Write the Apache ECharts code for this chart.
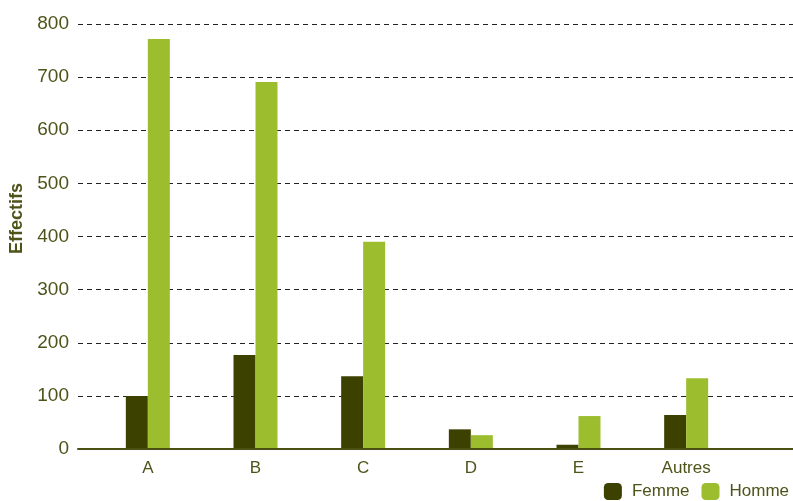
<!DOCTYPE html>
<html lang="fr">
  <head>
    <meta charset="UTF-8" />
    <title>Effectifs par catégorie</title>
    <script src="https://cdn.jsdelivr.net/npm/echarts@6/dist/echarts.min.js"></script>
    <style>
      html, body { margin: 0; padding: 0; background: #fff; }
      #main { width: 793px; height: 501px; }
    </style>
  </head>
  <body>
    <div id="main"></div>

    <script>
      const categories = ['A', 'B', 'C', 'D', 'E', 'Autres'];
      const femme = [100, 177, 137, 37, 8, 64];
      const homme = [772, 691, 390, 26, 62, 133];
      const yTicks = { min: 0, max: 800, interval: 100 };

      const textColor = '#4e5419';
      const font = "'Liberation Sans', Arial, sans-serif";

      const options = {
        animation: false,
        textStyle: { fontFamily: font },
        legend: {
          data: ['Femme', 'Homme'],
          right: -1,
          top: 478,
          icon: 'roundRect',
          itemWidth: 18,
          itemHeight: 17,
          itemGap: 12,
          textStyle: { fontSize: 17, color: textColor, fontFamily: font, padding: [0, 0, 0, 5] },
        },
        grid: [
          // background grid: gridlines and axis line run the full width
          { left: 78, right: 0, top: 24, bottom: 52, outerBoundsMode: 'none' },
          // bars sit in a narrower band
          { left: 94, right: 53, top: 24, bottom: 52, outerBoundsMode: 'none' },
        ],
        xAxis: [
          {
            type: 'category',
            gridIndex: 0,
            data: [''],
            axisLine: { show: true, lineStyle: { color: '#4a5012', width: 2 } },
            axisTick: { show: false },
            axisLabel: { show: false },
            z: 5,
          },
          {
            type: 'category',
            gridIndex: 1,
            data: categories,
            axisLine: { show: false },
            axisTick: { show: false },
            axisLabel: { fontSize: 17, color: textColor, margin: 11, fontFamily: font },
          },
        ],
        yAxis: [
          {
            type: 'value',
            gridIndex: 0,
            min: yTicks.min,
            max: yTicks.max,
            interval: yTicks.interval,
            name: 'Effectifs',
            nameLocation: 'middle',
            nameGap: 44,
            nameTextStyle: {
              fontSize: 18,
              fontWeight: 'bold',
              color: textColor,
              fontFamily: font,
              padding: [0, 0, 0, 36],
            },
            axisLine: { show: false },
            axisTick: { show: false },
            axisLabel: { fontSize: 19, color: textColor, margin: 9, fontFamily: font },
            splitLine: { lineStyle: { color: '#222', type: [5, 4], width: 1 } },
          },
          {
            type: 'value',
            gridIndex: 1,
            min: yTicks.min,
            max: yTicks.max,
            interval: yTicks.interval,
            show: false,
            splitLine: { show: false },
          },
        ],
        series: [
          {
            name: 'Femme',
            type: 'bar',
            xAxisIndex: 1,
            yAxisIndex: 1,
            data: femme,
            barWidth: 22,
            barGap: 0,
            itemStyle: { color: '#3c4100' },
          },
          {
            name: 'Homme',
            type: 'bar',
            xAxisIndex: 1,
            yAxisIndex: 1,
            data: homme,
            barWidth: 22,
            barGap: 0,
            itemStyle: { color: '#9bbd2e' },
          },
        ],
      };

      var myChart = echarts.init(document.querySelector('#main'));
      myChart.setOption(options);
    </script>
  </body>
</html>
